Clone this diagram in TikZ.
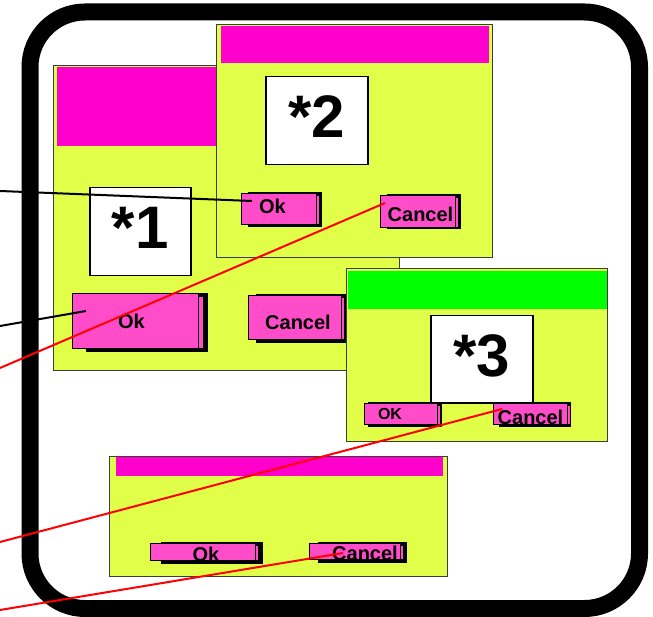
\documentclass[tikz,border=0pt]{standalone}
\usepackage{fontspec}
\setmainfont{Liberation Sans}
\definecolor{dlgyellow}{RGB}{225,255,72}
\definecolor{titlemag}{RGB}{255,0,204}
\definecolor{btnmag}{RGB}{255,76,200}
\definecolor{titlegreen}{RGB}{0,255,0}
\definecolor{dlgborder}{RGB}{60,60,60}
\begin{document}
\begin{tikzpicture}[x=1pt,y=-1pt,
  dlg/.style={draw=dlgborder, line width=0.8pt, fill=dlgyellow, inner sep=0pt, anchor=north west},
  titlebar/.style={fill=#1, inner sep=0pt, anchor=north west},
  numbox/.style={draw=black, line width=1.5pt, fill=white, inner sep=0pt, anchor=north west,
     font=\fontsize{60}{60}\selectfont\bfseries, text depth=8pt},
  btn/.style={draw=black, line width=1pt, fill=btnmag, inner sep=0pt, anchor=north west},
  btxt/.style={font=\fontsize{20}{20}\selectfont\bfseries, inner sep=0pt},
  btxtsmall/.style={font=\fontsize{16}{16}\selectfont\bfseries, inner sep=0pt},
  shadowbox/.style={fill=black},
  strip/.style={fill=btnmag},
  frame/.style={line width=17pt, rounded corners=55pt},
  blackwire/.style={draw=black, line width=2pt},
  redwire/.style={draw=red, line width=2pt}]
\useasboundingbox (0,0) rectangle (653,617);

% outer frame
\draw[frame] (30,12) rectangle (639.5,608.5);

% ---------- dialog 1 ----------
\node[dlg, minimum width=346pt, minimum height=305pt] (d1) at (53,65) {};
\node[titlebar=titlemag, minimum width=339pt, minimum height=79pt] (d1t) at (57,67) {};
\node[numbox, minimum width=101pt, minimum height=88pt] (n1) at (89,187) {*1};
\fill[shadowbox] (86,293) rectangle (208,352);
\fill[strip] (199,297) rectangle (203,348);
\node[btn, minimum width=126pt, minimum height=55pt,
      label={[btxt, xshift=-4pt]center:Ok}] (d1ok) at (72,293) {};
\fill[shadowbox] (256,294) rectangle (347,343);
\fill[strip] (342,298) rectangle (344,339);
\node[btn, minimum width=93pt, minimum height=44pt,
      label={[btxt, xshift=3pt, yshift=-5pt]center:Cancel}] (d1cancel) at (248,295) {};

% ---------- dialog 2 ----------
\node[dlg, minimum width=276pt, minimum height=233pt] (d2) at (216,24) {};
\node[titlebar=titlemag, minimum width=268pt, minimum height=37pt] (d2t) at (221,26) {};
\node[numbox, minimum width=102pt, minimum height=88pt] (n2) at (265,76) {*2};
\fill[shadowbox] (248,192) rectangle (322,227);
\fill[strip] (317,196) rectangle (319,224);
\node[btn, minimum width=75pt, minimum height=31pt,
      label={[btxt, xshift=-6.5pt, yshift=2.5pt]center:Ok}] (d2ok) at (241,193) {};
\fill[shadowbox] (387,194) rectangle (461,229);
\fill[strip] (456,198) rectangle (458,227);
\node[btn, minimum width=75pt, minimum height=32pt,
      label={[btxt, xshift=2.5pt, yshift=-3pt]center:Cancel}] (d2cancel) at (380,195) {};

% ---------- dialog 3 ----------
\node[dlg, minimum width=261pt, minimum height=173pt] (d3) at (346,268) {};
\node[titlebar=titlegreen, minimum width=259pt, minimum height=38pt] (d3t) at (348,271) {};
\node[numbox, minimum width=102pt, minimum height=87pt] (n3) at (430,315) {*3};
\fill[shadowbox] (368,402) rectangle (442,427);
\fill[strip] (438,406) rectangle (439.5,424);
\node[btn, minimum width=73pt, minimum height=21pt,
      label={[btxtsmall, xshift=-11pt]center:OK}] (d3ok) at (364,403) {};
\fill[shadowbox] (499,402) rectangle (571,427);
\fill[strip] (568,406) rectangle (569.5,424);
\node[btn, minimum width=74pt, minimum height=21pt,
      label={[btxt, yshift=-3pt]center:Cancel}] (d3cancel) at (493,403) {};

% ---------- dialog 4 ----------
\node[dlg, minimum width=338pt, minimum height=120pt] (d4) at (109,456) {};
\node[titlebar=titlemag, minimum width=327pt, minimum height=19pt] (d4t) at (116,457) {};
\fill[shadowbox] (161,542) rectangle (263,564);
\fill[strip] (256,546) rectangle (258,560);
\node[btn, minimum width=105pt, minimum height=17pt,
      label={[btxt, xshift=3pt, yshift=-2.5pt]center:Ok}] (d4ok) at (150,543) {};
\fill[shadowbox] (318,542) rectangle (407,563);
\fill[strip] (401,546) rectangle (403,559);
\node[btn, minimum width=91pt, minimum height=16pt,
      label={[btxt, xshift=10pt, yshift=-2pt]center:Cancel}] (d4cancel) at (309,543) {};

% ---------- connectors ----------
\coordinate (s1) at (0,191);
\coordinate (s2) at (0,326);
\coordinate (s3) at (0,368);
\coordinate (s4) at (0,542);
\coordinate (s5) at (0,610);
\coordinate (e1) at (252,201);
\coordinate (e2) at (86,311);
\coordinate (e3) at (385,203);
\coordinate (e4) at (502,409);
\coordinate (e5) at (343,553);
\draw[blackwire] (s1) -- (e1);
\draw[blackwire] (s2) -- (e2);
\draw[redwire] (s3) -- (e3);
\draw[redwire] (s4) -- (e4);
\draw[redwire] (s5) -- (e5);
\end{tikzpicture}
\end{document}
